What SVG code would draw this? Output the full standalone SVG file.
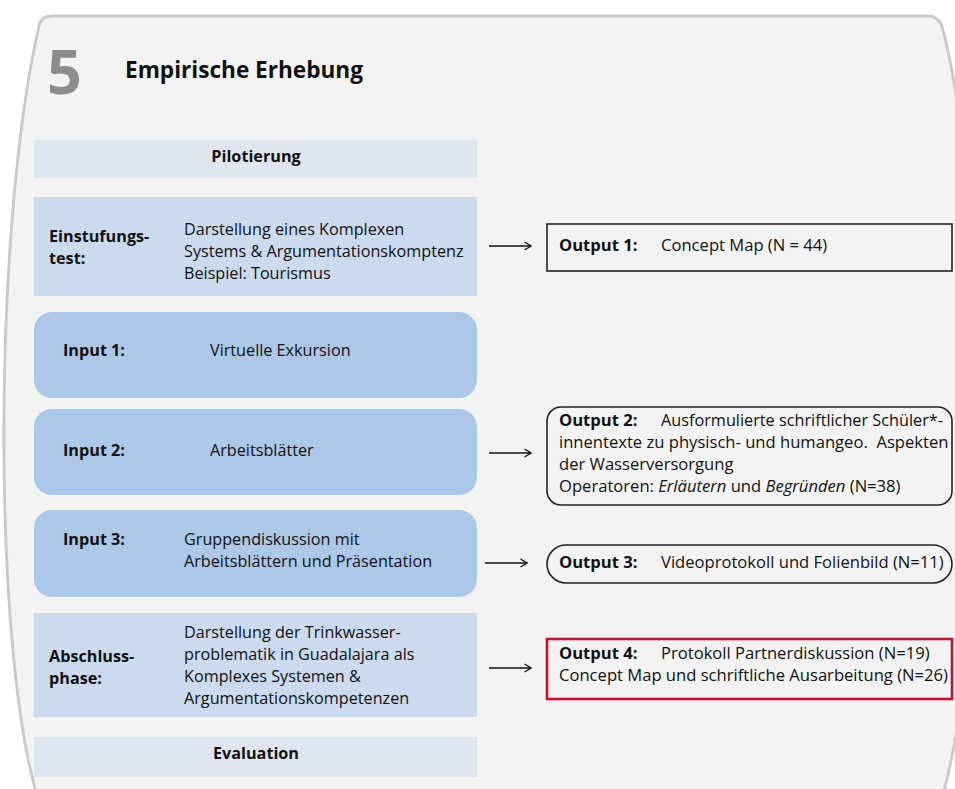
<svg xmlns="http://www.w3.org/2000/svg" width="955" height="789" viewBox="0 0 955 789">
<defs>
<style>
text{font-family:"Open Sans","Noto Sans","Liberation Sans",sans-serif;fill:#111}
.b{font-weight:bold}
.t{font-size:16.2px}
.o{font-size:16.6px}
.lt{fill:#dfe6f1}
.md{fill:#cbdaee}
.dk{fill:#adc7e8}
.out{fill:none;stroke:#222;stroke-width:1.6}
.red{fill:none;stroke:#c8102e;stroke-width:2.6}
.arr{stroke:#111;stroke-width:1.3;fill:none;marker-end:url(#ah)}
</style>
<marker id="ah" viewBox="0 0 10 10" refX="9.5" refY="5" markerWidth="10" markerHeight="10" markerUnits="userSpaceOnUse" orient="auto">
<path d="M3,1 L9.5,5 L3,9" fill="none" stroke="#111" stroke-width="1.3"/>
</marker>
</defs>
<rect width="955" height="789" fill="#fff"/>
<g id="frame">
<path d="M39,26 Q41,16 52,16 L928,16 Q938,16 942,26 C990,210 990,640 940,805 L40,805 C-8,660 -8,230 39,26 Z" fill="#f3f3f3" stroke="#c9c9c9" stroke-width="2.8"/>
<text x="47" y="94" font-size="61" class="b" style="fill:#8c8c8c">5</text>
<text x="125" y="78" font-size="22.6" class="b">Empirische Erhebung</text>
</g>
<g id="pilotierung">
<rect x="34" y="140" width="443" height="38" class="lt"/>
<text x="256" y="162" class="b t" text-anchor="middle">Pilotierung</text>
</g>
<g id="einstufungstest">
<rect x="34" y="197" width="443" height="99" class="md"/>
<text x="49" y="242" class="b t">Einstufungs-</text>
<text x="49" y="264" class="b t">test:</text>
<text x="184" y="235" class="t">Darstellung eines Komplexen</text>
<text x="184" y="257" class="t">Systems &amp; Argumentationskomptenz</text>
<text x="184" y="279" class="t">Beispiel: Tourismus</text>
</g>
<g id="input1">
<rect x="34" y="312" width="443" height="86" rx="18" class="dk"/>
<text x="63" y="356" class="b t">Input 1:</text>
<text x="210" y="356" class="t">Virtuelle Exkursion</text>
</g>
<g id="input2">
<rect x="34" y="409" width="443" height="86" rx="18" class="dk"/>
<text x="63" y="456" class="b t">Input 2:</text>
<text x="210" y="456" class="t">Arbeitsblätter</text>
</g>
<g id="input3">
<rect x="34" y="510" width="443" height="87" rx="18" class="dk"/>
<text x="63" y="545" class="b t">Input 3:</text>
<text x="184" y="545" class="t">Gruppendiskussion mit</text>
<text x="184" y="567" class="t">Arbeitsblättern und Präsentation</text>
</g>
<g id="abschlussphase">
<rect x="34" y="613" width="443" height="104" class="md"/>
<text x="49" y="662" class="b t">Abschluss-</text>
<text x="49" y="684" class="b t">phase:</text>
<text x="184" y="638" class="t">Darstellung der Trinkwasser-</text>
<text x="184" y="660" class="t">problematik in Guadalajara als</text>
<text x="184" y="682" class="t">Komplexes Systemen &amp;</text>
<text x="184" y="704" class="t">Argumentationskompetenzen</text>
</g>
<g id="evaluation">
<rect x="34" y="737" width="443" height="40" class="lt"/>
<text x="256" y="759" class="b t" text-anchor="middle">Evaluation</text>
</g>
<g id="output1">
<rect x="547" y="224" width="405" height="47" class="out"/>
<text x="559" y="251" class="b o">Output 1:</text>
<text x="661" y="251" class="o">Concept Map (N = 44)</text>
</g>
<g id="output2">
<rect x="547" y="407" width="405" height="98" rx="14" class="out"/>
<text x="559" y="426" class="b o">Output 2:</text>
<text x="661" y="426" class="o" textLength="282" lengthAdjust="spacingAndGlyphs">Ausformulierte schriftlicher Schüler*-</text>
<text x="559" y="448" class="o">innentexte zu physisch- und humangeo.&#160; Aspekten</text>
<text x="559" y="470" class="o">der Wasserversorgung</text>
<text x="559" y="492" class="o">Operatoren: <tspan font-style="italic">Erläutern</tspan> und <tspan font-style="italic">Begründen</tspan> (N=38)</text>
</g>
<g id="output3">
<rect x="547" y="545" width="405" height="38" rx="19" class="out"/>
<text x="559" y="568" class="b o">Output 3:</text>
<text x="661" y="568" class="o">Videoprotokoll und Folienbild (N=11)</text>
</g>
<g id="output4">
<rect x="547" y="639" width="405" height="60" class="red"/>
<text x="559" y="659" class="b o">Output 4:</text>
<text x="661" y="659" class="o">Protokoll Partnerdiskussion (N=19)</text>
<text x="559" y="681" class="o">Concept Map und schriftliche Ausarbeitung (N=26)</text>
</g>
<g id="connectors">
<line x1="489" y1="246" x2="531" y2="246" class="arr"/>
<line x1="489" y1="453" x2="531" y2="453" class="arr"/>
<line x1="485" y1="563" x2="527" y2="563" class="arr"/>
<line x1="489" y1="668" x2="531" y2="668" class="arr"/>
</g>
</svg>
